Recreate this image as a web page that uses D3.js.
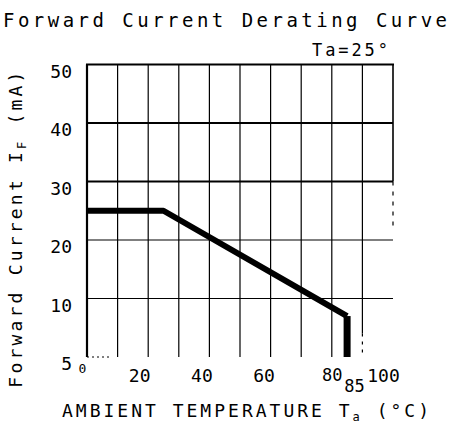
<!DOCTYPE html>
<html>
<head>
<meta charset="utf-8">
<script src="https://cdn.jsdelivr.net/npm/d3@7"></script>
<style>
  html, body { margin: 0; padding: 0; background: #fff; }
  svg { display: block; }
  text { font-family: "DejaVu Sans Mono", monospace; fill: #000; }
</style>
</head>
<body>
<div id="chart"></div>
<script>
// ---- data ----
const curveTemp = [0, 25, 85, 85];          // ambient temperature, °C
const curveCurrent = [25, 25, 7, 0];        // forward current, mA
const xTickValues = [0, 20, 40, 60, 80, 85, 100];
const xTickLabels = ["0", "20", "40", "60", "80", "85", "100"];
const yTickValues = [0, 10, 20, 30, 40, 50];
const yTickLabels = ["5", "10", "20", "30", "40", "50"];
const xGridValues = [10, 20, 30, 40, 50, 60, 70, 80, 90];
const yGridValues = [10, 20, 30, 40];
const boldGridY = [30, 40];

const W = 450, H = 426;
const svg = d3.select("#chart").append("svg").attr("width", W).attr("height", H);

const x = d3.scaleLinear().domain([0, 100]).range([87, 393]);
const y = d3.scaleLinear().domain([0, 50]).range([357, 64.5]);

// grid: vertical lines
xGridValues.forEach(v => {
  if (v === 90) {
    svg.append("line").attr("x1", x(v)).attr("x2", x(v))
      .attr("y1", y(50)).attr("y2", y(4)).attr("stroke", "#000").attr("stroke-width", 1.2);
    svg.append("line").attr("x1", x(v)).attr("x2", x(v))
      .attr("y1", y(4)).attr("y2", y(0)).attr("stroke", "#000").attr("stroke-width", 1.2)
      .attr("stroke-dasharray", "3,5");
  } else {
    svg.append("line").attr("x1", x(v)).attr("x2", x(v))
      .attr("y1", y(50)).attr("y2", y(0)).attr("stroke", "#000").attr("stroke-width", 1.2);
  }
});
// grid: horizontal lines
yGridValues.forEach(v => {
  svg.append("line").attr("x1", x(0)).attr("x2", x(100))
    .attr("y1", y(v)).attr("y2", y(v)).attr("stroke", "#000")
    .attr("stroke-width", boldGridY.includes(v) ? 2.2 : 1.2);
});
// bottom dotted remnant
svg.append("line").attr("x1", x(0)).attr("x2", x(8))
  .attr("y1", y(0)).attr("y2", y(0)).attr("stroke", "#000").attr("stroke-width", 1)
  .attr("stroke-dasharray", "2,3");

// frame: top, left, right (partial)
svg.append("line").attr("x1", x(0) - 1).attr("x2", x(100) + 1)
  .attr("y1", y(50)).attr("y2", y(50)).attr("stroke", "#000").attr("stroke-width", 2.2);
svg.append("line").attr("x1", x(0)).attr("x2", x(0))
  .attr("y1", y(50)).attr("y2", y(0)).attr("stroke", "#000").attr("stroke-width", 2.2);
svg.append("line").attr("x1", x(100)).attr("x2", x(100))
  .attr("y1", y(50)).attr("y2", y(30)).attr("stroke", "#000").attr("stroke-width", 1.6);
svg.append("line").attr("x1", x(100)).attr("x2", x(100))
  .attr("y1", y(30)).attr("y2", y(22)).attr("stroke", "#000").attr("stroke-width", 1.2)
  .attr("stroke-dasharray", "4,6");

// derating curve
const pts = curveTemp.map((t, i) => [t, curveCurrent[i]]);
const line = d3.line().x(d => x(d[0])).y(d => y(d[1]));
svg.append("path").datum(pts.slice(0, 3)).attr("d", line)
  .attr("fill", "none").attr("stroke", "#000").attr("stroke-width", 6)
  .attr("stroke-linejoin", "round");
svg.append("path").datum(pts.slice(2)).attr("d", line)
  .attr("fill", "none").attr("stroke", "#000").attr("stroke-width", 7);

// y tick labels
const yAxis = d3.axisLeft(y).tickValues(yTickValues)
  .tickFormat((d, i) => yTickLabels[i]).tickSize(0).tickPadding(0);
const gy = svg.append("g").attr("transform", `translate(${x(0) - 15},0)`).call(yAxis);
gy.select(".domain").remove();
gy.selectAll("text").attr("font-family", "DejaVu Sans Mono, monospace")
  .attr("font-size", 18).attr("fill", "#000").attr("dy", "0.7em");

// x tick labels: [dx, dy, font-size]
const xOffsets = { 0: [-5, -5, 13], 20: [-9, 0, 18], 40: [-8, 0, 18], 60: [-7, 0, 18], 80: [0, 0, 17], 85: [7, 11, 17], 100: [-10, 0, 18] };
const xAxis = d3.axisBottom(x).tickValues(xTickValues)
  .tickFormat((d, i) => xTickLabels[i]).tickSize(0).tickPadding(0);
const gx = svg.append("g").attr("transform", `translate(0,${y(0) + 11})`).call(xAxis);
gx.select(".domain").remove();
gx.selectAll("text").attr("font-family", "DejaVu Sans Mono, monospace").attr("fill", "#000")
  .attr("font-size", d => xOffsets[d][2])
  .attr("dx", d => xOffsets[d][0])
  .attr("dy", d => xOffsets[d][1] + "px")
  .attr("y", 0).attr("dominant-baseline", "hanging");

// title
svg.append("text").attr("x", 3).attr("y", 27).attr("font-size", 19)
  .attr("textLength", 444).attr("lengthAdjust", "spacing")
  .text("Forward Current Derating Curve");
svg.append("text").attr("x", 312).attr("y", 56).attr("font-size", 17)
  .attr("textLength", 76).attr("lengthAdjust", "spacing")
  .text("Ta=25°");

// y axis title
const yt = svg.append("text").attr("transform", "translate(22,228) rotate(-90)")
  .attr("text-anchor", "middle").attr("font-size", 18).attr("letter-spacing", 3.2);
yt.append("tspan").text("Forward Current I");
yt.append("tspan").attr("font-size", 12).attr("dy", 4).text("F");
yt.append("tspan").attr("dy", -4).text(" (mA)");

// x axis title
const xt = svg.append("text").attr("x", 62).attr("y", 417).attr("font-size", 18).attr("letter-spacing", 3);
xt.append("tspan").text("AMBIENT TEMPERATURE T");
xt.append("tspan").attr("font-size", 12).attr("dy", 4).text("a");
xt.append("tspan").attr("dy", -4).text(" (°C)");
</script>
</body>
</html>
